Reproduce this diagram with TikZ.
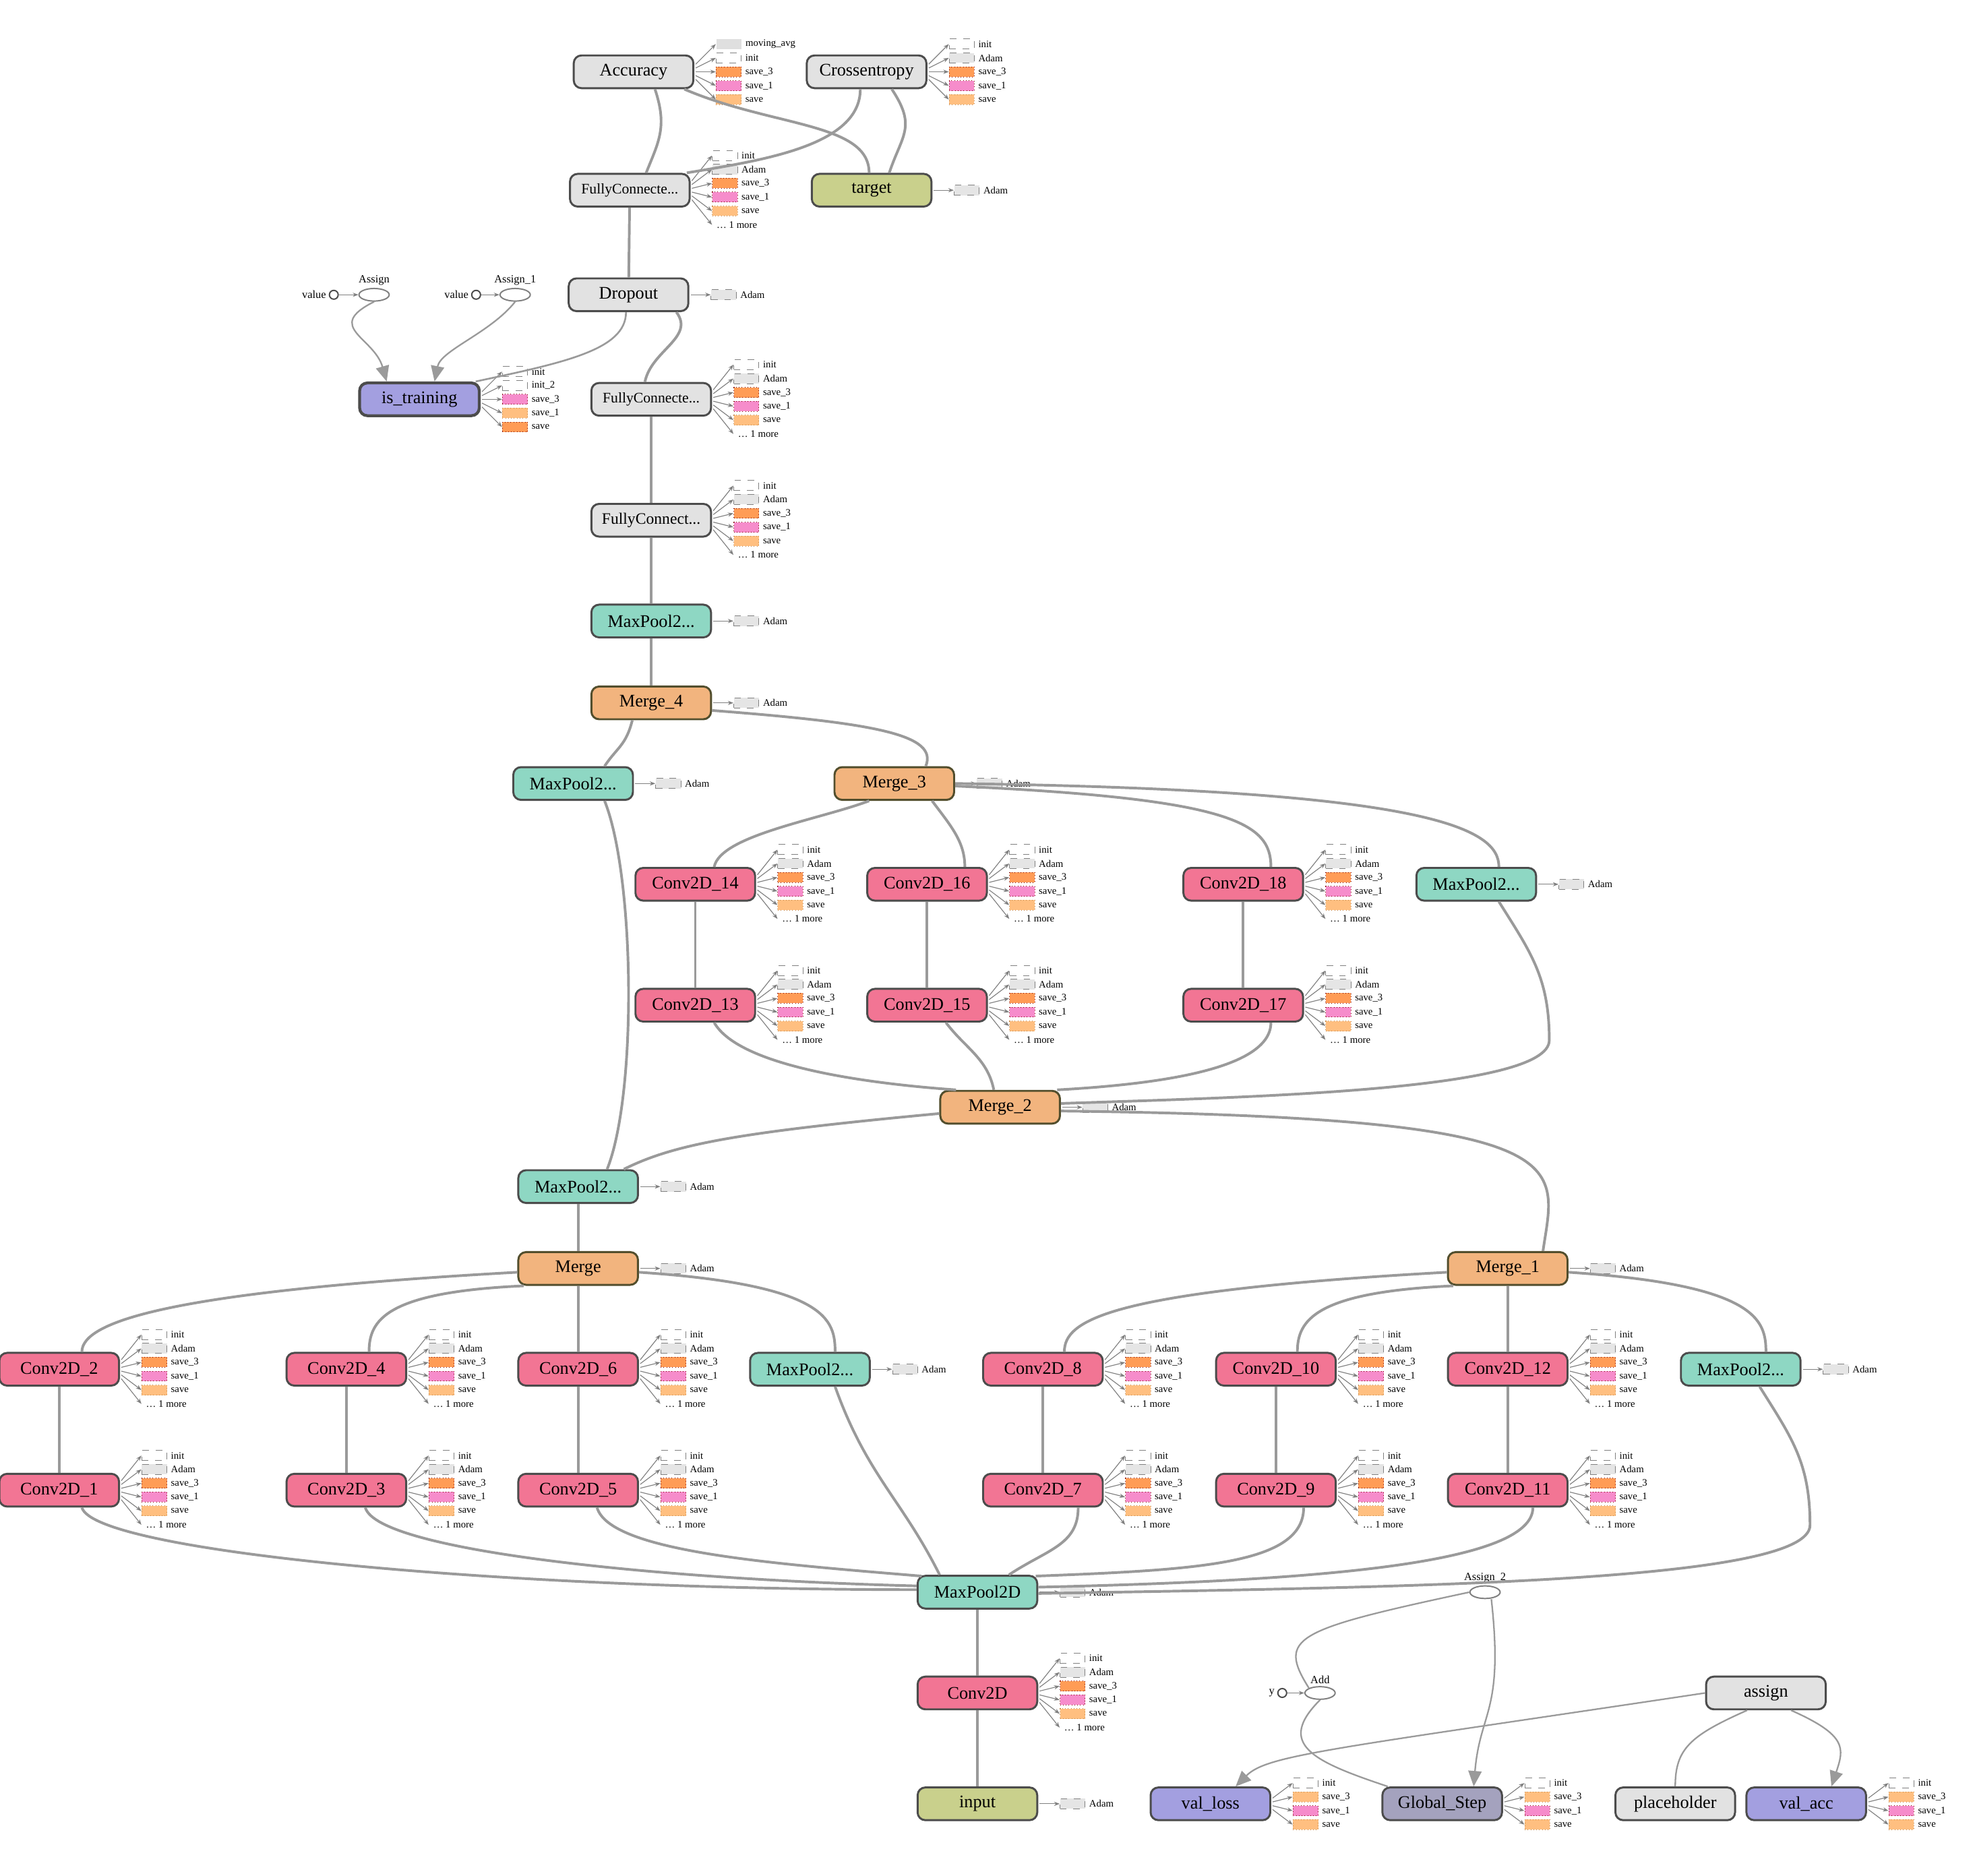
\documentclass[tikz,border=0pt]{standalone}
\usepackage{fontspec}
\setmainfont{Liberation Serif}
\usetikzlibrary{arrows.meta,calc,positioning,shapes.geometric}

\definecolor{opgray}{HTML}{E2E2E2}
\definecolor{opteal}{HTML}{8ED7C3}
\definecolor{oporange}{HTML}{F2B47E}
\definecolor{oppink}{HTML}{F27594}
\definecolor{opolive}{HTML}{C9D08C}
\definecolor{oppurple}{HTML}{A39FE0}
\definecolor{opslate}{HTML}{A4A2BE}
\definecolor{edgegray}{HTML}{9A9A9A}

\tikzset{
  op/.style={draw=black!70, line width=0.9pt, rounded corners=3.5pt,
    minimum width=1.9cm, minimum height=0.52cm, inner sep=1pt,
    font=\fontsize{8}{9}\selectfont},
  graybox/.style={op, fill=opgray},
  fcbox/.style={graybox, font=\fontsize{6.6}{7}\selectfont},
  tealbox/.style={op, fill=opteal},
  mergebox/.style={op, fill=oporange, draw=black!55!olive},
  convbox/.style={op, fill=oppink},
  olivebox/.style={op, fill=opolive},
  varbox/.style={op, fill=oppurple},
  stepbox/.style={op, fill=opslate},
  refop/.style={ellipse, draw=gray, line width=0.6pt, fill=white,
    minimum width=0.48cm, minimum height=0.2cm, inner sep=0pt},
  constop/.style={circle, draw=black!70, line width=0.6pt, fill=white,
    minimum size=0.14cm, inner sep=0pt},
  optext/.style={font=\fontsize{5}{6}\selectfont, inner sep=1pt},
  flow/.style={draw=edgegray, line width=1.2pt},
  ref/.style={draw=edgegray, line width=0.7pt,
    -{Triangle[length=7pt,width=6pt]}},
  auxbase/.style={minimum width=0.4cm, minimum height=0.16cm, inner sep=0pt,
    anchor=west},
  auxinit/.style={auxbase, draw=gray, dashed, line width=0.3pt, fill=white},
  auxadam/.style={auxbase, draw=gray, dashed, line width=0.3pt, fill=gray!20},
  auxmavg/.style={auxbase, fill=gray!25},
  auxsaveC/.style={auxbase, fill=orange!55!pink, draw=red!50!black,
    densely dotted, line width=0.3pt},
  auxsaveB/.style={auxbase, fill=magenta!45, draw=red!50!black,
    densely dotted, line width=0.3pt},
  auxsaveA/.style={auxbase, fill=orange!50, draw=brown,
    densely dotted, line width=0.3pt},
  auxmore/.style={inner sep=0pt, minimum size=0pt, anchor=west},
  auxtext/.style={font=\fontsize{4.5}{5}\selectfont, inner sep=0.5pt},
  auxlink/.style={draw=gray, line width=0.35pt, -{Stealth[length=2.5pt]}},
}

% item lists for the little fans beside the ops
\def\convlist{auxinit/init, auxadam/Adam, auxsaveC/save\_3, auxsaveB/save\_1, auxsaveA/save, auxmore/{\ldots\ 1 more}}
\def\acclist{auxmavg/moving\_avg, auxinit/init, auxsaveC/save\_3, auxsaveB/save\_1, auxsaveA/save}
\def\xentlist{auxinit/init, auxadam/Adam, auxsaveC/save\_3, auxsaveB/save\_1, auxsaveA/save}
\def\istrlist{auxinit/init, auxinit/init\_2, auxsaveB/save\_3, auxsaveA/save\_1, auxsaveC/save}
\def\vlist{auxinit/init, auxsaveA/save\_3, auxsaveB/save\_1, auxsaveA/save}
\def\adamlist{auxadam/Adam}

% #1 op name, #2 number of items, #3 list macro
\newcommand\varfan[3]{%
  \foreach[count=\i] \st/\lb in #3{%
    \node[\st] (#1-\i) at ($(#1.east)+(17,{(\i-(#2+1)/2)*11})$) {};
    \node[auxtext, right=1pt of #1-\i] (#1-\i-t) {\lb};
    \draw[auxlink] ($(#1.east)+(1,{(\i-(#2+1)/2)*3})$) -- (#1-\i.west);
  }}

\begin{document}
\begin{tikzpicture}[x=0.02cm, y=-0.02cm]
  \fill[white] (0,0) rectangle (1568,1489);
  \useasboundingbox (0,0) rectangle (1568,1489);

  % top part
  \node[graybox] (acc) at (503,57) {Accuracy};
  \node[graybox] (xent) at (688,57) {Crossentropy};
  \node[fcbox] (fctop) at (500,151) {FullyConnecte...};
  \node[olivebox] (target) at (692,151) {target};
  \node[graybox] (drop) at (499,234) {Dropout};
  \node[varbox, line width=1.3pt] (istr) at (333,317) {is\_training};
  \node[fcbox] (fc2) at (517,317) {FullyConnecte...};
  \node[fcbox, font=\fontsize{7.2}{8}\selectfont] (fc3) at (517,413) {FullyConnect...};
  \node[refop] (asg) at (297,234) {};
  \node[optext, above=0pt of asg] (asg-t) {Assign};
  \node[constop] (asgv) at (265,234) {};
  \node[optext, left=0pt of asgv] (asgv-t) {value};
  \node[refop] (asg1) at (409,234) {};
  \node[optext, above=0pt of asg1] (asg1-t) {Assign\_1};
  \node[constop] (asg1v) at (378,234) {};
  \node[optext, left=0pt of asg1v] (asg1v-t) {value};

  % pooling / merge chain
  \node[tealbox] (mp5) at (517,493) {MaxPool2...};
  \node[mergebox] (merge4) at (517,558) {Merge\_4};
  \node[tealbox] (mp4) at (455,622) {MaxPool2...};
  \node[mergebox] (merge3) at (710,622) {Merge\_3};
  \node[convbox] (c14) at (552,702) {Conv2D\_14};
  \node[convbox] (c16) at (736,702) {Conv2D\_16};
  \node[convbox] (c18) at (987,702) {Conv2D\_18};
  \node[tealbox] (mp3r) at (1172,702) {MaxPool2...};
  \node[convbox] (c13) at (552,798) {Conv2D\_13};
  \node[convbox] (c15) at (736,798) {Conv2D\_15};
  \node[convbox] (c17) at (987,798) {Conv2D\_17};
  \node[mergebox] (merge2) at (794,879) {Merge\_2};
  \node[tealbox] (mp2) at (459,942) {MaxPool2...};
  \node[mergebox] (merge) at (459,1007) {Merge};
  \node[mergebox] (merge1) at (1197,1007) {Merge\_1};

  \node[convbox] (c2) at (47,1087) {Conv2D\_2};
  \node[convbox] (c4) at (275,1087) {Conv2D\_4};
  \node[convbox] (c6) at (459,1087) {Conv2D\_6};
  \node[tealbox] (mpA) at (643,1087) {MaxPool2...};
  \node[convbox] (c8) at (828,1087) {Conv2D\_8};
  \node[convbox] (c10) at (1013,1087) {Conv2D\_10};
  \node[convbox] (c12) at (1197,1087) {Conv2D\_12};
  \node[tealbox] (mpB) at (1382,1087) {MaxPool2...};
  \node[convbox] (c1) at (47,1183) {Conv2D\_1};
  \node[convbox] (c3) at (275,1183) {Conv2D\_3};
  \node[convbox] (c5) at (459,1183) {Conv2D\_5};
  \node[convbox] (c7) at (828,1183) {Conv2D\_7};
  \node[convbox] (c9) at (1013,1183) {Conv2D\_9};
  \node[convbox] (c11) at (1197,1183) {Conv2D\_11};

  \node[tealbox] (mp0) at (776,1264) {MaxPool2D};
  \node[convbox] (c0) at (776,1344) {Conv2D};
  \node[olivebox] (input) at (776,1432) {input};

  % bottom right
  \node[refop] (asg2) at (1179,1264) {};
  \node[optext, above=0pt of asg2] (asg2-t) {Assign\_2};
  \node[refop] (add) at (1048,1344) {};
  \node[optext, above=0pt of add] (add-t) {Add};
  \node[constop] (addy) at (1018,1344) {};
  \node[optext, left=0pt of addy] (addy-t) {y};
  \node[graybox] (assign) at (1402,1344) {assign};
  \node[varbox] (vloss) at (961,1432) {val\_loss};
  \node[stepbox] (gstep) at (1145,1432) {Global\_Step};
  \node[graybox] (ph) at (1330,1432) {placeholder};
  \node[varbox] (vacc) at (1434,1432) {val\_acc};

  % fans of side nodes
  \varfan{acc}{5}{\acclist}
  \varfan{xent}{5}{\xentlist}
  \varfan{fctop}{6}{\convlist}
  \varfan{target}{1}{\adamlist}
  \varfan{drop}{1}{\adamlist}
  \varfan{istr}{5}{\istrlist}
  \varfan{fc2}{6}{\convlist}
  \varfan{fc3}{6}{\convlist}
  \foreach \n in {mp5,merge4,mp4,merge3,mp3r,merge2,mp2,merge,merge1,mpA,mpB,mp0,input}
    {\varfan{\n}{1}{\adamlist}}
  \foreach \n in {c0,c1,c2,c3,c4,c5,c6,c7,c8,c9,c10,c11,c12,c13,c14,c15,c16,c17,c18}
    {\varfan{\n}{6}{\convlist}}
  \foreach \n in {vloss,gstep,vacc}
    {\varfan{\n}{4}{\vlist}}

  % edges, top
  \draw[flow] ($(acc.south)+(17,0)$) .. controls +(10,30) and +(10,-25) .. ($(fctop.north)+(13,0)$);
  \draw[flow] ($(acc.south east)+(-8,0)$) .. controls +(70,30) and +(0,-40) .. ($(target.north)+(-2,0)$);
  \draw[flow] ($(xent.south)+(-5,0)$) .. controls +(0,45) and +(60,-10) .. ($(fctop.north east)+(-3,0)$);
  \draw[flow] ($(xent.south)+(20,0)$) .. controls +(20,30) and +(10,-30) .. ($(target.north)+(14,0)$);
  \draw[flow] (fctop) -- (drop);
  \draw[flow, line width=0.8pt] ($(drop.south)+(-2,0)$) .. controls +(0,30) and +(70,-15) .. ($(istr.north east)+(-4,0)$);
  \draw[flow] ($(drop.south)+(38,0)$) .. controls +(15,20) and +(5,-25) .. ($(fc2.north)+(-5,0)$);
  \draw[ref] (asg.south) .. controls +(-40,20) and +(-10,-35) .. ($(istr.north)+(-26,0)$);
  \draw[ref] (asg1.south) .. controls +(-20,25) and +(5,-25) .. ($(istr.north)+(12,0)$);
  \draw[auxlink] (asgv) -- (asg);
  \draw[auxlink] (asg1v) -- (asg1);
  \draw[flow] (fc2) -- (fc3);
  \draw[flow] (fc3) -- (mp5);
  \draw[flow] (mp5) -- (merge4);
  \draw[flow] ($(merge4.south)+(-15,0)$) .. controls +(-5,20) and +(10,-15) .. ($(mp4.north)+(25,0)$);
  \draw[flow] ($(merge4.east)+(0,6)$) .. controls +(130,10) and +(10,-25) .. ($(merge3.north)+(25,0)$);
  \draw[flow] ($(mp4.south)+(25,0)$) .. controls +(24,60) and +(24,-60) .. ($(mp2.north)+(23,0)$);

  % edges, Merge_3 block
  \draw[flow] ($(merge3.south)+(-20,0)$) .. controls +(-40,15) and +(5,-25) .. ($(c14.north)+(15,0)$);
  \draw[flow] ($(merge3.south)+(30,0)$) .. controls +(15,20) and +(0,-20) .. ($(c16.north)+(30,0)$);
  \draw[flow] ($(merge3.east)+(0,2)$) .. controls +(220,10) and +(0,-35) .. ($(c18.north)+(22,0)$);
  \draw[flow] (merge3.east) .. controls +(380,5) and +(0,-30) .. ($(mp3r.north)+(18,0)$);
  \draw[flow] (c14) -- (c13);
  \draw[flow] (c16) -- (c15);
  \draw[flow] (c18) -- (c17);
  \draw[flow] ($(c13.south)+(15,0)$) .. controls +(20,35) and +(-70,-5) .. ($(merge2.north)+(-35,0)$);
  \draw[flow] ($(c15.south)+(15,0)$) .. controls +(15,20) and +(-5,-25) .. ($(merge2.north)+(-5,0)$);
  \draw[flow] ($(c17.south)+(22,0)$) .. controls +(0,35) and +(90,-5) .. ($(merge2.north east)+(-3,0)$);
  \draw[flow] ($(mp3r.south)+(18,0)$) .. controls +(25,40) and +(0,-50) .. +(40,110)
    .. controls +(0,40) and +(150,-5) .. ($(merge2.east)+(0,-3)$);
  \draw[flow] ($(merge2.west)+(0,5)$) .. controls +(-160,15) and +(40,-20) .. ($(mp2.north east)+(-12,0)$);
  \draw[flow] ($(merge2.east)+(0,3)$) .. controls +(420,5) and +(10,-70) .. ($(merge1.north)+(28,0)$);
  \draw[flow] (mp2) -- (merge);

  % edges, Merge and Merge_1 blocks
  \draw[flow] ($(merge.west)+(0,3)$) .. controls +(-270,15) and +(0,-25) .. ($(c2.north)+(18,0)$);
  \draw[flow] ($(merge.south west)+(5,0)$) .. controls +(-110,5) and +(0,-25) .. ($(c4.north)+(18,0)$);
  \draw[flow] (merge) -- (c6);
  \draw[flow] ($(merge.east)+(0,3)$) .. controls +(150,10) and +(0,-25) .. ($(mpA.north)+(20,0)$);
  \draw[flow] ($(merge1.west)+(0,3)$) .. controls +(-270,15) and +(0,-25) .. ($(c8.north)+(17,0)$);
  \draw[flow] ($(merge1.south west)+(5,0)$) .. controls +(-110,5) and +(0,-25) .. ($(c10.north)+(17,0)$);
  \draw[flow] (merge1) -- (c12);
  \draw[flow] ($(merge1.east)+(0,3)$) .. controls +(150,10) and +(0,-25) .. ($(mpB.north)+(20,0)$);
  \foreach \a/\b in {c2/c1,c4/c3,c6/c5,c8/c7,c10/c9,c12/c11}
    \draw[flow] (\a) -- (\b);

  % edges into MaxPool2D
  \draw[flow] ($(c1.south)+(18,0)$) .. controls +(10,35) and +(-330,0) .. ($(mp0.west)+(0,-2)$);
  \draw[flow] ($(c3.south)+(15,0)$) .. controls +(10,35) and +(-200,-5) .. ($(mp0.west)+(0,-5)$);
  \draw[flow] ($(c5.south)+(15,0)$) .. controls +(10,35) and +(-120,-10) .. ($(mp0.north west)+(4,1)$);
  \draw[flow] ($(mpA.south)+(20,0)$) .. controls +(25,70) and +(-30,-60) .. ($(mp0.north)+(-30,0)$);
  \draw[flow] ($(c7.south)+(28,0)$) .. controls +(0,30) and +(30,-20) .. ($(mp0.north)+(25,0)$);
  \draw[flow] ($(c9.south)+(22,0)$) .. controls +(0,45) and +(130,-5) .. ($(mp0.north east)+(-2,1)$);
  \draw[flow] ($(c11.south)+(20,0)$) .. controls +(0,45) and +(220,-5) .. ($(mp0.east)+(0,-4)$);
  \draw[flow] ($(mpB.south)+(15,0)$) .. controls +(25,40) and +(0,-50) .. +(40,110)
    .. controls +(0,45) and +(300,-5) .. ($(mp0.east)+(0,1)$);
  \draw[flow] (mp0) -- (c0);
  \draw[flow] (c0) -- (input);

  % edges, bottom right
  \draw[flow, line width=0.7pt] (asg2.west) .. controls +(-140,30) and +(-25,-40) .. (add.north west);
  \draw[auxlink] (addy) -- (add);
  \draw[flow, line width=0.7pt] (add.south) .. controls +(-35,35) and +(-60,-20) .. ($(gstep.north west)+(5,0)$);
  \draw[ref] ($(asg2.south)+(5,0)$) .. controls +(10,90) and +(5,-60) .. ($(gstep.north)+(25,0)$);
  \draw[ref] (assign.west) .. controls +(-300,45) and +(25,-25) .. ($(vloss.north)+(20,0)$);
  \draw[flow, line width=0.7pt] ($(assign.south)+(-15,0)$) .. controls +(-45,20) and +(0,-30) .. (ph.north);
  \draw[ref] ($(assign.south)+(20,0)$) .. controls +(45,20) and +(10,-30) .. ($(vacc.north)+(20,0)$);
\end{tikzpicture}
\end{document}
